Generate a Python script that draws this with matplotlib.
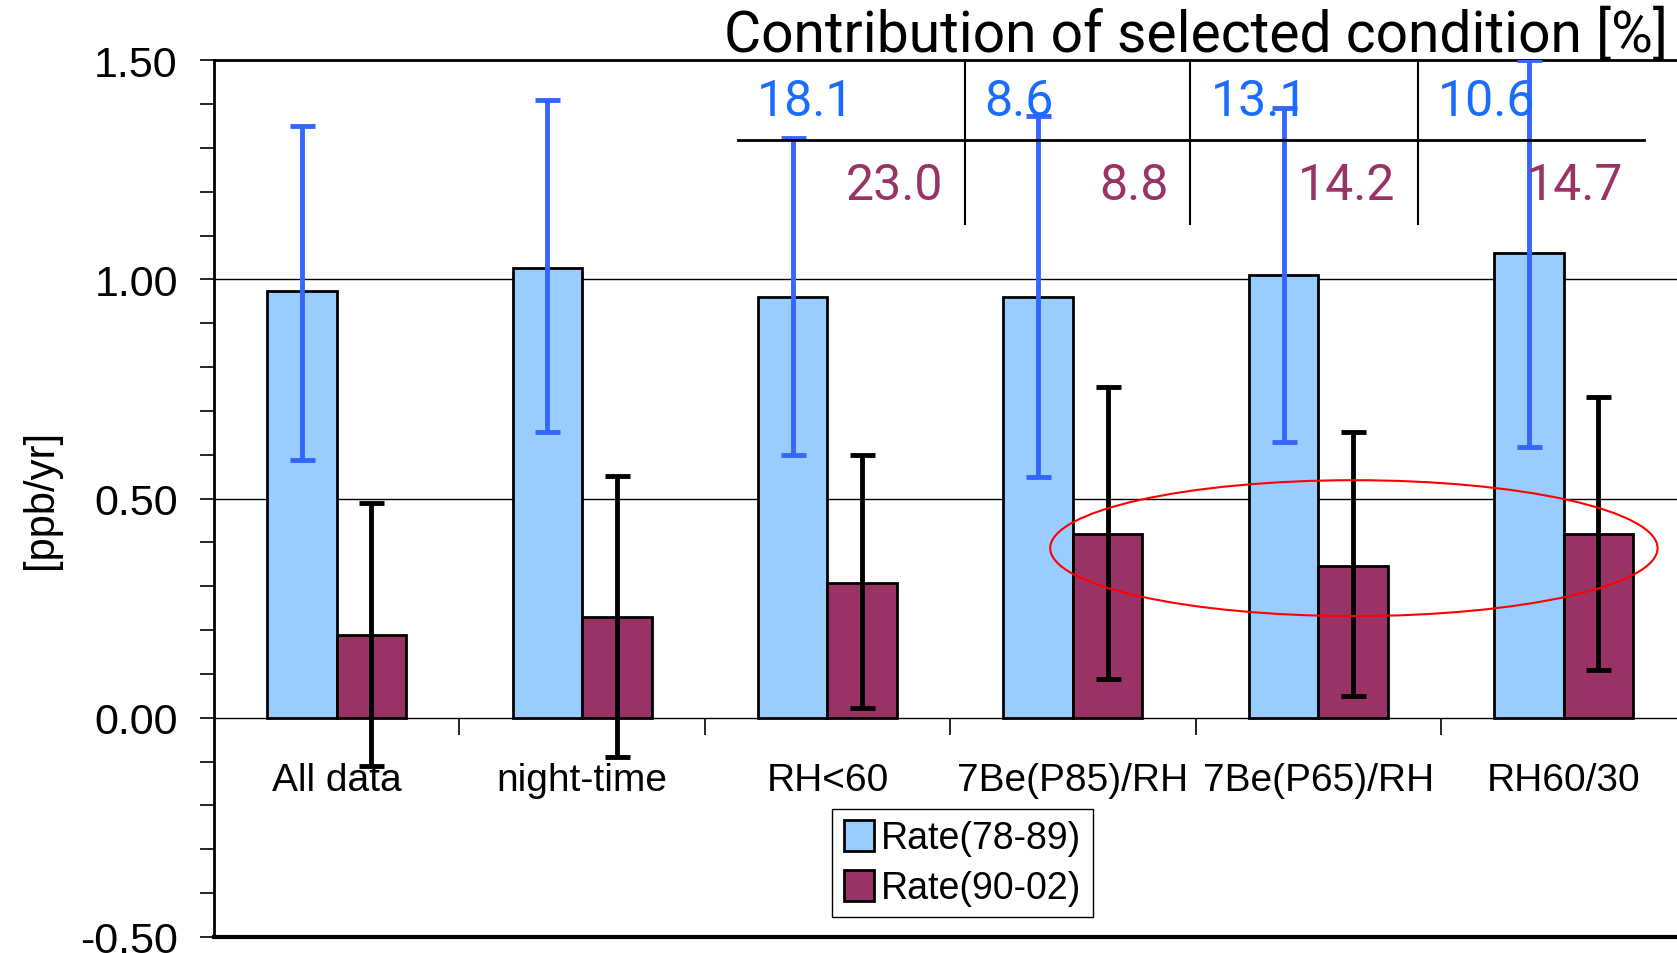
import matplotlib.pyplot as plt
from matplotlib.patches import Ellipse, Patch
import numpy as np

plt.rcParams['axes.unicode_minus'] = False

categories = ['All data', 'night-time', 'RH<60', '7Be(P85)/RH', '7Be(P65)/RH', 'RH60/30']
rate_78_89 = [0.973, 1.027, 0.959, 0.959, 1.010, 1.061]
rate_78_89_low = [0.588, 0.651, 0.600, 0.549, 0.629, 0.617]
rate_78_89_high = [1.349, 1.410, 1.322, 1.373, 1.390, 1.500]
rate_90_02 = [0.190, 0.229, 0.307, 0.420, 0.346, 0.420]
rate_90_02_low = [-0.110, -0.090, 0.022, 0.088, 0.049, 0.110]
rate_90_02_high = [0.490, 0.551, 0.600, 0.754, 0.651, 0.732]

# contribution of selected condition [%], groups 3..6
contrib_78_89 = ['18.1', '8.6', '13.1', '10.6']
contrib_90_02 = ['23.0', '8.8', '14.2', '14.7']

BLUE = '#99CCFF'
MAROON = '#993366'
ERR_BLUE = '#3366FF'
TXT_BLUE = '#1A6CFF'
NARROW = ['Roboto', 'DejaVu Sans']
SANS = ['Liberation Sans', 'DejaVu Sans']

fig = plt.figure(figsize=(16.77, 9.54), dpi=100)
ax = fig.add_axes([0.1276, 0.0168, 0.878, 0.919])

x = np.arange(len(categories))
w = 0.283
v1 = np.array(rate_78_89)
v2 = np.array(rate_90_02)
ax.bar(x - w / 2, v1, w, color=BLUE, edgecolor='black', linewidth=2, zorder=3)
ax.bar(x + w / 2, v2, w, color=MAROON, edgecolor='black', linewidth=2, zorder=3)
ax.errorbar(x - w / 2, v1, yerr=[v1 - np.array(rate_78_89_low), np.array(rate_78_89_high) - v1],
            fmt='none', ecolor=ERR_BLUE, elinewidth=3.5, capsize=9, capthick=3.5, zorder=4)
ax.errorbar(x + w / 2, v2, yerr=[v2 - np.array(rate_90_02_low), np.array(rate_90_02_high) - v2],
            fmt='none', ecolor='black', elinewidth=3.5, capsize=9, capthick=3.5, zorder=4)

ax.set_xlim(-0.5, 5.5)
ax.set_ylim(-0.5, 1.5)

# y axis
ax.set_yticks(np.arange(-0.5, 1.51, 0.5))
ax.set_yticks(np.arange(-0.5, 1.51, 0.1), minor=True)
ax.set_yticklabels(['%.2f' % v for v in np.arange(-0.5, 1.51, 0.5)], fontsize=31, family=SANS)
ax.tick_params(axis='y', which='both', direction='out', length=10, width=1.2, pad=16)
for yy in [0.5, 1.0]:
    ax.axhline(yy, color='black', linewidth=1, zorder=1)

# x axis crosses at 0
ax.spines['bottom'].set_position(('data', 0))
ax.spines['bottom'].set_linewidth(1)
ax.spines['right'].set_visible(False)
ax.spines['left'].set_linewidth(2)
ax.spines['top'].set_linewidth(2)
ax.axhline(-0.5, color='black', linewidth=3, zorder=2, clip_on=False)
ax.set_xticks(np.arange(0.5, 5.6, 1.0))
ax.set_xticklabels([])
ax.set_xticks(x, minor=True)
ax.set_xticklabels(categories, minor=True, fontsize=28, family=SANS)
ax.tick_params(axis='x', which='major', direction='out', length=12, width=1.2)
ax.tick_params(axis='x', which='minor', length=0, pad=32)

ax.add_patch(Ellipse((4.145, 0.387), 2.475, 0.31, fill=False, edgecolor='red', linewidth=1.5, zorder=5))

# contribution table
ax.plot([1.635, 5.326], [1.317, 1.317], color='black', linewidth=2, zorder=6, clip_on=False)
for xv in [2.559, 3.478, 4.406]:
    ax.plot([xv, xv], [1.5, 1.127], color='black', linewidth=1.5, zorder=6)
for xl, t in zip([1.713, 2.637, 3.561, 4.489], contrib_78_89):
    ax.text(xl, 1.407, t, color=TXT_BLUE, fontsize=36, family=NARROW, ha='left', va='center', zorder=7)
for xr, t in zip([2.472, 3.391, 4.315, 5.243], contrib_90_02):
    ax.text(xr, 1.215, t, color=MAROON, fontsize=36, family=NARROW, ha='right', va='center', zorder=7)

fig.text(0.432, 0.946, 'Contribution of selected condition [%]', fontsize=41, family=NARROW,
         ha='left', va='baseline')
fig.text(0.0245, 0.477, '[ppb/yr]', fontsize=30, family=SANS, rotation=90, ha='center', va='center')

handles = [Patch(facecolor=BLUE, edgecolor='black', linewidth=2),
           Patch(facecolor=MAROON, edgecolor='black', linewidth=2)]
leg = fig.legend(handles, ['Rate(78-89)', 'Rate(90-02)'], loc='center', bbox_to_anchor=(0.574, 0.0943),
                 prop={'family': SANS, 'size': 27}, fancybox=False, framealpha=1, edgecolor='black',
                 handlelength=0.8, handleheight=0.9, handletextpad=0.2, borderpad=0.3, labelspacing=0.35,
                 borderaxespad=0)
leg.get_frame().set_linewidth(1)

fig.savefig('out.png', dpi=100)
